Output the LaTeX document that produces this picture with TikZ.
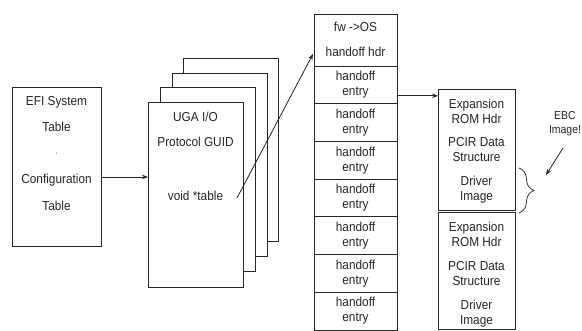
\documentclass[tikz,border=0pt]{standalone}
\usepackage{fontspec}
\setmainfont{Liberation Sans}[FakeStretch=0.91]
\usetikzlibrary{arrows.meta,decorations.pathreplacing,calc}
\begin{document}
\begin{tikzpicture}[x=1pt,y=-1pt,
  box/.style={draw=black!85,line width=0.9pt,fill=white,inner sep=0pt,outer sep=0pt,anchor=north west},
  lbl/.style={inner sep=0pt,align=center,font=\fontsize{13}{15}\selectfont,text=black!85},
  small/.style={inner sep=0pt,align=center,font=\fontsize{11.5}{14}\selectfont,text=black!85},
  arr/.style={draw=black!85,line width=0.8pt,-{Stealth[length=6pt,width=4.5pt]}}]
\useasboundingbox (0,0) rectangle (582,331);
\fill[white] (0,0) rectangle (582,331);

% EFI system table
\node[box,minimum width=89pt,minimum height=159pt] (efi) at (12,87) {};
\node[lbl] (efi1) at (56.5,102) {EFI System};
\node[lbl] (efi2) at (56.5,127) {Table};
\node[lbl,text=black!40] (efi3) at (56.5,154) {.};
\node[lbl] (efi4) at (56.5,180) {Configuration};
\node[lbl] (efi5) at (56.5,206) {Table};

% UGA stack
\node[box,minimum width=95pt,minimum height=183pt] (uga3) at (183,58) {};
\node[box,minimum width=95pt,minimum height=183pt] (uga2) at (172,73) {};
\node[box,minimum width=95pt,minimum height=184pt] (uga1) at (160,87) {};
\node[box,minimum width=95pt,minimum height=185pt] (uga0) at (148,102) {};
\node[lbl] (uga0a) at (195.5,117) {UGA I/O};
\node[lbl] (uga0b) at (195.5,142) {Protocol GUID};
\node[lbl] (uga0c) at (195.5,196) {void *table};

% handoff table
\node[box,minimum width=83pt,minimum height=52pt] (hdr) at (314,14) {};
\node[lbl] (hdra) at (355.5,27) {fw ->OS};
\node[lbl] (hdrb) at (355.5,52) {handoff hdr};
\foreach \i in {1,...,7}{
  \node[box,minimum width=83pt,minimum height=37.71pt] (e\i) at (314,{66+37.71*(\i-1)}) {};
  \node[lbl] (e\i t) at (e\i.center) {handoff\\entry};
}

% expansion ROM images
\node[box,minimum width=77pt,minimum height=121pt] (exp1) at (438,89) {};
\node[lbl] (exp1a) at (476.5,111) {Expansion\\ROM Hdr};
\node[lbl] (exp1b) at (476.5,150) {PCIR Data\\Structure};
\node[lbl] (exp1c) at (476.5,190) {Driver\\Image};
\node[box,minimum width=77pt,minimum height=117.5pt] (exp2) at (438,212) {};
\node[lbl] (exp2a) at (476.5,234) {Expansion\\ROM Hdr};
\node[lbl] (exp2b) at (476.5,274) {PCIR Data\\Structure};
\node[lbl] (exp2c) at (476.5,314) {Driver\\Image};

% EBC label
\node[small] (ebc) at (565,124) {EBC\\Image!};
\coordinate (ebcs) at (563,148);
\coordinate (ebce) at (546,175);
\draw[arr] (ebcs) -- (ebce);

% brace
\coordinate (bt) at (519,168);
\coordinate (bb) at (519,213);
\draw[draw=black!80,line width=0.8pt,decorate,decoration={brace,amplitude=15pt}] (bt) -- (bb);

% connectors
\draw[arr] ([yshift=-10.5pt]efi.east) coordinate (a1) -- (a1 -| uga0.west);
\coordinate (vt) at (237,198);
\coordinate (hin) at (313,54);
\draw[arr] (vt) -- (hin);
\draw[arr] ([yshift=-11pt]e1.east) coordinate (a2) -- (a2 -| exp1.west);
\end{tikzpicture}
\end{document}
